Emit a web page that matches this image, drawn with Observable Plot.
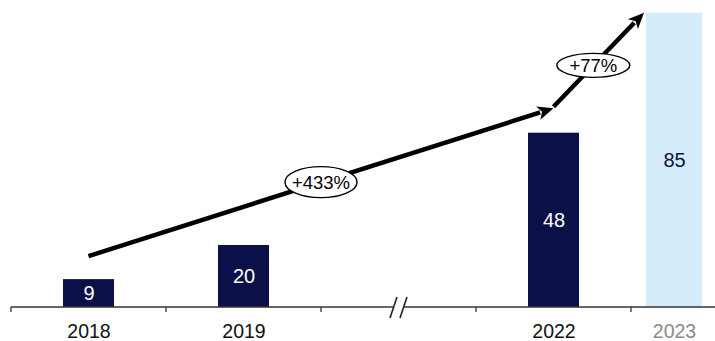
<!DOCTYPE html>
<html>
<head>
<meta charset="utf-8">
<script src="https://cdn.jsdelivr.net/npm/d3@7"></script>
<script src="https://cdn.jsdelivr.net/npm/@observablehq/plot@0.6"></script>
<style>
  html, body { margin: 0; padding: 0; background: #fff; }
</style>
</head>
<body>
<div id="chart"></div>
<script>
// ---- data ----
const years = ["2018", "2019", "2022", "2023"];
const values = [9, 20, 48, 85];
const slots = ["2018", "2019", "//", "2022", "2023"]; // x categories incl. axis break
const forecastYear = "2023";
const growthFrom = ["2018", "2022"];
const growthTo = ["2022", "2023"];
const growthLabels = ["+433%", "+77%"];

// ---- styling ----
const navy = "#0c1048";
const lightBlue = "#d5ecfa";
const font = "Liberation Sans, Arial, Helvetica, sans-serif";
const shift2023 = -34.5;

const data = years.map((year, i) => ({year, value: values[i]}));
const actual = data.filter(d => d.year !== forecastYear);
const forecast = data.filter(d => d.year === forecastYear);
const growth = growthLabels.map((label, i) => ({
  from: growthFrom[i], to: growthTo[i], label,
  fromValue: values[years.indexOf(growthFrom[i])],
  toValue: values[years.indexOf(growthTo[i])]
}));

const yOpts = {type: "linear", domain: [0, 20, 48, 85], range: [307, 245, 132.7, 12.7]};
const yScale = Plot.scale({y: yOpts});
const mid = v => yScale.invert((yScale.apply(0) + yScale.apply(v)) / 2);

function annotations(index, scales, channels, dimensions) {
  const {x, y} = scales;
  const bw = x(slots[1]) - x(slots[0]);
  const cx = d => x(d) + bw / 2 + (d === forecastYear ? shift2023 : 0);
  const base = y(0);
  const g = d3.create("svg:g");
  // baseline
  g.append("line").attr("x1", dimensions.marginLeft).attr("x2", dimensions.width)
    .attr("y1", base).attr("y2", base).attr("stroke", "#333").attr("stroke-width", 1.3);
  // ticks at slot boundaries
  for (const s of slots) {
    g.append("line").attr("x1", x(s)).attr("x2", x(s)).attr("y1", base).attr("y2", base + 5)
      .attr("stroke", "#333").attr("stroke-width", 1.3);
  }
  // axis break
  const bx = x("//") + bw / 2;
  g.append("rect").attr("x", bx - 5).attr("y", base - 2).attr("width", 10).attr("height", 4).attr("fill", "white");
  for (const ox of [-5, 5]) {
    g.append("line").attr("x1", bx + ox + 3.5).attr("y1", base - 10).attr("x2", bx + ox - 3.5).attr("y2", base + 11)
      .attr("stroke", "#222").attr("stroke-width", 1.6);
  }
  // arrows
  const drawArrow = (x1, y1, x2, y2, label, t, rx, ry) => {
    const dx = x2 - x1, dy = y2 - y1, len = Math.hypot(dx, dy);
    const ux = dx / len, uy = dy / len;
    const hl = 16, hw = 7;
    const bxp = x2 - ux * hl, byp = y2 - uy * hl;
    g.append("line").attr("x1", x1).attr("y1", y1).attr("x2", bxp + ux * 2).attr("y2", byp + uy * 2)
      .attr("stroke", "black").attr("stroke-width", 4.5);
    g.append("path")
      .attr("d", `M${x2},${y2}L${bxp - uy * hw},${byp + ux * hw}L${bxp + ux * 4},${byp + uy * 4}L${bxp + uy * hw},${byp - ux * hw}Z`)
      .attr("fill", "black");
    const ex = x1 + dx * t, ey = y1 + dy * t;
    g.append("ellipse").attr("cx", ex).attr("cy", ey).attr("rx", rx).attr("ry", ry)
      .attr("fill", "white").attr("stroke", "black").attr("stroke-width", 1.4);
    g.append("text").attr("x", ex).attr("y", ey).attr("dy", "0.36em").attr("text-anchor", "middle")
      .attr("font-size", 18.5).attr("font-family", font).attr("fill", "black").text(label);
  };
  const a = growth[0], b = growth[1];
  drawArrow(cx(a.from), y(a.fromValue) - 23, cx(a.to), y(a.toValue) - 24.5, a.label, 0.5, 36, 15.5);
  const halfW2023 = (bw - 99) / 2;
  drawArrow(cx(b.from), y(b.fromValue) - 26, cx(b.to) - halfW2023 - 2, y(b.toValue), b.label, 0.44, 36.5, 12);
  return g.node();
}

const chart = Plot.plot({
  width: 715,
  height: 341,
  marginLeft: 11,
  marginRight: 0,
  marginTop: 0,
  marginBottom: 34,
  style: {fontFamily: font, background: "white"},
  x: {type: "band", domain: slots, range: [11, 786], padding: 0, axis: null},
  y: {...yOpts, axis: null},
  marks: [
    Plot.barY(actual, {x: "year", y: "value", fill: navy, insetLeft: 52, insetRight: 52}),
    Plot.barY(forecast, {x: "year", y: "value", fill: lightBlue, insetLeft: 49.5, insetRight: 49.5, dx: shift2023}),
    Plot.text(actual, {x: "year", y: d => mid(d.value), text: d => String(d.value), fill: "white", fontSize: 20}),
    Plot.text(forecast, {x: "year", y: d => mid(d.value), text: d => String(d.value), fill: navy, fontSize: 20, dx: shift2023}),
    Plot.text(actual, {x: "year", text: "year", frameAnchor: "bottom", lineAnchor: "middle", dy: 24.5, fontSize: 19.5, fill: "#111"}),
    Plot.text(forecast, {x: "year", text: "year", frameAnchor: "bottom", lineAnchor: "middle", dy: 24.5, fontSize: 19.5, fill: "#8c8c8c", dx: shift2023}),
    annotations
  ]
});
document.getElementById("chart").appendChild(chart);
</script>
</body>
</html>
